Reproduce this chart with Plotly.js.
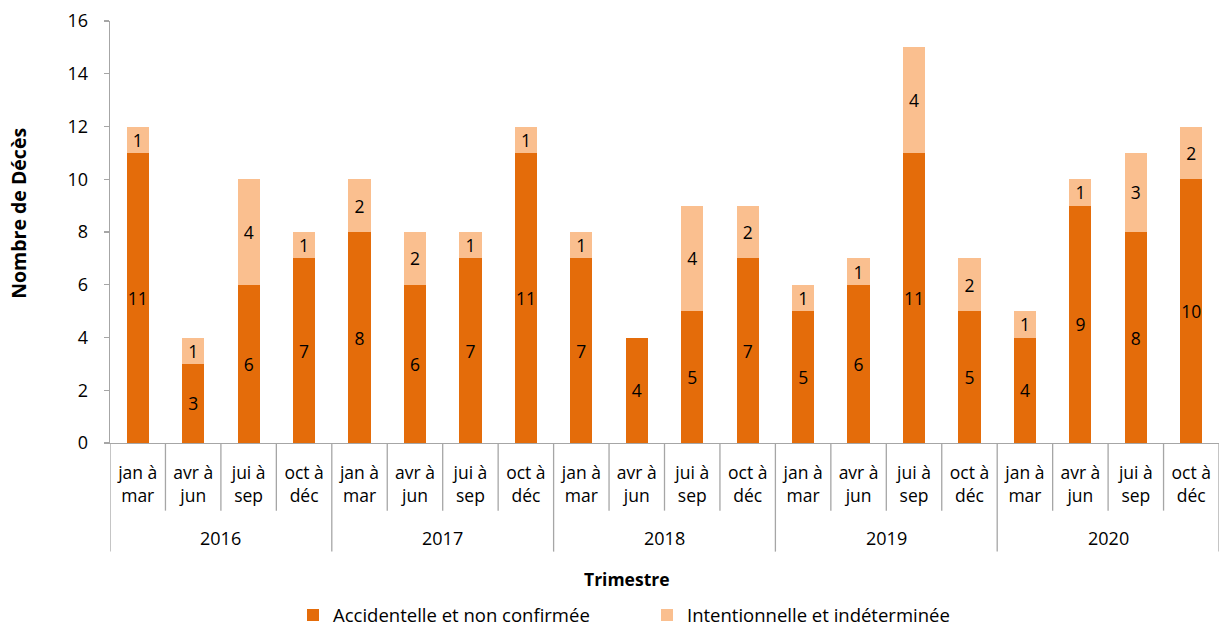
<!DOCTYPE html>
<html>
<head>
<meta charset="utf-8">
<script src="https://cdn.plot.ly/plotly-3.0.1.min.js"></script>
<style>html,body{margin:0;padding:0;background:#fff;overflow:hidden}#chart{width:1219px;height:629px}</style>
</head>
<body>
<div id="chart"></div>
<script>
const years = ['2016', '2017', '2018', '2019', '2020'];
const quarterTop = ['jan à', 'avr à', 'jui à', 'oct à'];
const quarterBottom = ['mar', 'jun', 'sep', 'déc'];
const accidentelle = [11, 3, 6, 7, 8, 6, 7, 11, 7, 4, 5, 7, 5, 6, 11, 5, 4, 9, 8, 10];
const intentionnelle = [1, 1, 4, 1, 2, 2, 1, 1, 1, 0, 4, 2, 1, 1, 4, 2, 1, 1, 3, 2];
const seriesNames = ['Accidentelle et non confirmée', 'Intentionnelle et indéterminée'];
const yTitle = 'Nombre de Décès';
const xTitle = 'Trimestre';

const FONT = '"Open Sans", "Noto Sans", sans-serif';
const FS = 17.5;
const nQ = quarterTop.length;
const n = years.length * nQ;
const idx = Array.from({length: n}, (_, i) => i);
const topLabels = idx.map(i => quarterTop[i % nQ]);
const bottomLabels = idx.map(i => quarterBottom[i % nQ]);

const traces = [
  {
    type: 'bar', x: idx, y: accidentelle, name: seriesNames[0],
    marker: {color: '#E46C0A'},
    text: accidentelle.map(v => v ? String(v) : ''),
    textposition: 'inside', insidetextanchor: 'middle', textangle: 0,
    constraintext: 'none',
    textfont: {family: FONT, size: FS, color: '#000'},
    hoverinfo: 'skip'
  },
  {
    type: 'bar', x: idx, y: intentionnelle, name: seriesNames[1],
    marker: {color: '#FABF8F'},
    text: intentionnelle.map(v => v ? String(v) : ''),
    textposition: 'inside', insidetextanchor: 'middle', textangle: 0,
    constraintext: 'none',
    textfont: {family: FONT, size: FS, color: '#000'},
    hoverinfo: 'skip'
  },
  {
    type: 'scatter', x: [0], y: [0], xaxis: 'x2', mode: 'markers',
    marker: {opacity: 0}, showlegend: false, hoverinfo: 'skip'
  }
];

const PT = 21, PB = 443.3, PH = PB - PT;
const py = p => (PB - p) / PH;   // pixel -> paper y
const PL = 110, PW = 1219 - PL;
const px = p => (p - PL) / PW;

const shapes = [];
for (let b = 0; b <= n; b++) {
  const isYear = b % nQ === 0;
  shapes.push({
    type: 'line', xref: 'x', yref: 'paper',
    x0: b - 0.5, x1: b - 0.5, y0: 0, y1: py(isYear ? 552 : 511),
    line: {color: '#A6A6A6', width: 1.3}
  });
}

const annotations = years.map((yr, i) => ({
  xref: 'x', yref: 'paper', x: i * nQ + (nQ - 1) / 2, y: py(538),
  text: yr, showarrow: false, xanchor: 'center', yanchor: 'middle',
  font: {family: FONT, size: 18, color: '#000'}
}));
annotations.push({
  xref: 'paper', yref: 'paper', x: px(627), y: py(579), text: '<b>' + xTitle + '</b>',
  showarrow: false, xanchor: 'center', yanchor: 'middle',
  font: {family: FONT, size: 17.5, color: '#000'}
});
annotations.push({
  xref: 'paper', yref: 'paper', x: px(19), y: py(214), text: '<b>' + yTitle + '</b>',
  textangle: -90, showarrow: false, xanchor: 'center', yanchor: 'middle',
  font: {family: FONT, size: 19.5, color: '#000'}
});

const layout = {
  width: 1219, height: 629,
  margin: {l: PL, r: 0, t: PT, b: 629 - PB, autoexpand: false},
  paper_bgcolor: '#fff', plot_bgcolor: '#fff',
  barmode: 'stack', bargap: 0.6,
  font: {family: FONT, size: FS, color: '#000'},
  xaxis: {
    type: 'linear', range: [-0.5, n - 0.5], tickmode: 'array',
    tickvals: idx, ticktext: topLabels, ticks: '', showgrid: false, zeroline: false,
    showline: true, linecolor: '#A6A6A6', linewidth: 1.3,
    ticklabelstandoff: 14,
    tickfont: {family: FONT, size: FS, color: '#000'}, fixedrange: true
  },
  xaxis2: {
    type: 'linear', range: [-0.5, n - 0.5], overlaying: 'x', anchor: 'y', side: 'bottom',
    tickmode: 'array', tickvals: idx, ticktext: bottomLabels, ticks: '',
    showgrid: false, zeroline: false, showline: false,
    ticklabelstandoff: 40,
    tickfont: {family: FONT, size: FS, color: '#000'}, fixedrange: true
  },
  yaxis: {
    range: [0, 16], dtick: 2, tick0: 0, ticks: 'outside', ticklen: 5, tickcolor: '#A6A6A6',
    tickwidth: 1.3, showline: true, linecolor: '#A6A6A6', linewidth: 1.3,
    showgrid: false, zeroline: false, ticklabelstandoff: 12,
    tickfont: {family: FONT, size: 18, color: '#000'}, fixedrange: true
  },
  showlegend: true,
  legend: {
    orientation: 'h', x: px(293), xanchor: 'left', y: py(635), yanchor: 'bottom',
    entrywidth: 309, entrywidthmode: 'pixels', itemwidth: 30,
    font: {family: FONT, size: 18.5, color: '#000'}, traceorder: 'normal'
  },
  shapes: shapes,
  annotations: annotations
};

Plotly.newPlot('chart', traces, layout, {displayModeBar: false, staticPlot: true});
</script>
</body>
</html>
